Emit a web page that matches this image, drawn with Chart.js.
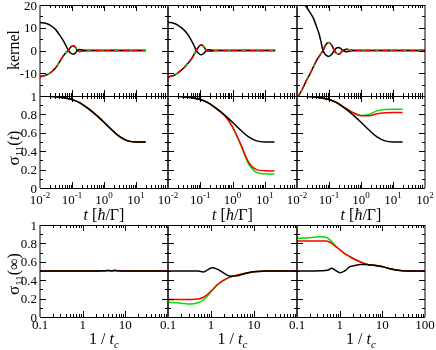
<!DOCTYPE html>
<html>
<head>
<meta charset="utf-8">
<script src="https://cdn.jsdelivr.net/npm/chart.js@4.4.0/dist/chart.umd.min.js"></script>
<style>
  html, body { margin: 0; padding: 0; background: #fff; overflow: hidden; width: 436px; height: 350px; }
  #wrap { position: relative; width: 436px; height: 350px; }
  canvas { position: absolute; }
</style>
</head>
<body>
<div id="wrap"></div>
<script>
// ---- kernel (top row), time in hbar/Gamma ----
const tKer1  = [0.01, 0.015, 0.02, 0.03, 0.04, 0.05, 0.065, 0.077, 0.09, 0.11, 0.13, 0.146, 0.17, 0.2, 0.25, 0.3, 0.4, 0.6, 1, 3, 10, 20];
const kerUp1 = [12.3, 12.0, 11.3, 9.4, 7.0, 5.0, 2.1, 0, -1.1, -1.6, -1.0, 0, 0.4, 0.3, 0.1, 0, 0, 0, 0, 0, 0, 0];
const kerLo1 = [-11.5, -10.9, -10.0, -7.8, -5.2, -3.0, -0.9, 0, 1.4, 2.1, 1.3, 0, -0.4, -0.3, -0.1, 0, 0, 0, 0, 0, 0, 0];

const tKer2  = [0.01, 0.015, 0.02, 0.03, 0.04, 0.055, 0.065, 0.075, 0.09, 0.107, 0.13, 0.154, 0.18, 0.22, 0.3, 0.4, 0.6, 1, 3, 10, 21];
const kerUp2 = [12.4, 12.0, 11.2, 9.3, 7.3, 4.0, 2.0, 0, -1.3, -1.9, -1.2, 0, 0.3, 0.2, 0, 0, 0, 0, 0, 0, 0];
const kerLo2 = [-11.6, -11.0, -9.9, -7.8, -5.9, -3.4, -1.6, 0, 1.7, 2.5, 1.6, 0, -0.3, -0.2, 0, 0, 0, 0, 0, 0, 0];

const tKer3  = [0.01, 0.0143, 0.02, 0.026, 0.033, 0.042, 0.048, 0.056, 0.065, 0.08, 0.098, 0.12, 0.147, 0.17, 0.2, 0.23, 0.27, 0.32, 0.37, 0.45, 0.55, 0.7, 1, 3, 10, 30, 100];
const kerUp3 = [23, 21.5, 19, 16.5, 14, 10, 7.7, 4, 0, -2, -2.6, -1.8, 0, 1.0, 1.3, 0.9, 0, -0.4, -0.5, -0.2, 0.1, 0, 0, 0, 0, 0, 0];
const kerLo3 = [-21, -17.3, -13, -10, -7, -4.1, -2.8, -1.4, 0, 2.6, 3.5, 2.5, 0, -1.2, -1.6, -1.1, 0, 0.4, 0.5, 0.2, -0.1, 0, 0, 0, 0, 0, 0];

// ---- sigma_11(t) (middle row), quarter-decade samples ----
const tSig      = [0.01, 0.0178, 0.0316, 0.0562, 0.1, 0.178, 0.316, 0.562, 1, 1.78, 3.16, 5.62, 10, 20];
const sigBlack  = [1, 0.998, 0.993, 0.982, 0.962, 0.925, 0.865, 0.795, 0.715, 0.63, 0.555, 0.512, 0.501, 0.5];
const sigRed2   = [1, 0.998, 0.993, 0.982, 0.962, 0.925, 0.862, 0.79, 0.665, 0.48, 0.28, 0.2, 0.188, 0.185];
const sigGreen2 = [1, 0.998, 0.993, 0.982, 0.962, 0.925, 0.862, 0.79, 0.665, 0.47, 0.26, 0.17, 0.155, 0.152];
const sigRed3   = [1, 0.998, 0.993, 0.982, 0.962, 0.927, 0.872, 0.82, 0.785, 0.785, 0.806, 0.817, 0.82, 0.82];
const sigGreen3 = [1, 0.998, 0.993, 0.982, 0.962, 0.927, 0.872, 0.82, 0.788, 0.8, 0.838, 0.854, 0.857, 0.857];

// ---- sigma_11(inf) vs 1/t_c (bottom row) ----
const uInf1     = [0.1, 0.3, 1, 2, 3, 4, 5, 6, 7, 10, 30, 100];
const infBlack1 = [0.5, 0.5, 0.5, 0.5, 0.502, 0.505, 0.503, 0.506, 0.502, 0.5, 0.5, 0.5];

const uInf2     = [0.1, 0.2, 0.33, 0.5, 0.67, 0.85, 1.06, 1.39, 1.8, 2.37, 3, 4.06, 5.5, 8.4, 12, 20, 40, 100];
const infBlack2 = [0.5, 0.5, 0.5, 0.5, 0.49, 0.515, 0.536, 0.52, 0.49, 0.455, 0.443, 0.447, 0.465, 0.487, 0.495, 0.5, 0.5, 0.5];
const infRed2   = [0.19, 0.19, 0.19, 0.195, 0.215, 0.25, 0.29, 0.35, 0.39, 0.42, 0.44, 0.456, 0.47, 0.487, 0.495, 0.5, 0.5, 0.5];
const infGreen2 = [0.16, 0.15, 0.14, 0.155, 0.185, 0.235, 0.29, 0.345, 0.385, 0.418, 0.44, 0.456, 0.47, 0.487, 0.495, 0.5, 0.5, 0.5];

const uInf3     = [0.1, 0.2, 0.35, 0.45, 0.54, 0.65, 0.78, 1.02, 1.3, 1.75, 2.3, 3, 4, 5.1, 6.2, 8, 10.6, 15, 21, 40, 100];
const infBlack3 = [0.5, 0.5, 0.502, 0.505, 0.51, 0.53, 0.51, 0.48, 0.5, 0.547, 0.56, 0.57, 0.572, 0.566, 0.562, 0.555, 0.545, 0.525, 0.51, 0.5, 0.5];
const infRed3   = [0.826, 0.826, 0.826, 0.825, 0.82, 0.8, 0.77, 0.73, 0.69, 0.655, 0.625, 0.6, 0.578, 0.566, 0.562, 0.555, 0.545, 0.525, 0.51, 0.5, 0.5];
const infGreen3 = [0.855, 0.862, 0.873, 0.87, 0.855, 0.82, 0.78, 0.73, 0.69, 0.655, 0.625, 0.6, 0.578, 0.566, 0.562, 0.555, 0.545, 0.525, 0.51, 0.5, 0.5];

// ---- ticks / labels ----
const timeMajor   = [0.01, 0.1, 1, 10, 100];
const timeLabels  = ['-2', '-1', '0', '1', '2'];   // exponents of 10
const tcMajor     = [0.1, 1, 10, 100];
const tcLabels    = ['0.1', '1', '10', '100'];
const kernelTicks = [20, 10, 0, -10, -20];
const kernelLabels = ['20', '10', '0', '-10', ''];
const sigmaTicks  = [1, 0.8, 0.6, 0.4, 0.2, 0];
const sigmaLabels = ['1', '0.8', '0.6', '0.4', '0.2', '0'];

// panel frame edges on the page
const colX = [40, 168, 297, 425];
const rowY = [[5, 96], [96, 188], [225, 317]];
const PAD = { left: 40, right: 14, top: 6, bottom: 40 };
const FONT = '"Liberation Serif", "Times New Roman", serif';

function pts(xs, ys) { return xs.map((x, i) => ({ x: x, y: ys[i] })); }
function line(xs, ys, color, dash, offset) {
  return { data: pts(xs, ys), borderColor: color, borderDash: dash || [], borderDashOffset: offset || 0 };
}

// draws parts [text, font, dy] centred on x, baseline y
function rich(ctx, parts, x, y) {
  let w = 0;
  parts.forEach(p => { ctx.font = p[1]; w += ctx.measureText(p[0]).width; });
  let cx = x - w / 2;
  parts.forEach(p => {
    ctx.font = p[1];
    ctx.fillText(p[0], cx, y + (p[2] || 0));
    cx += ctx.measureText(p[0]).width;
  });
}

const yTitles = [
  [['kernel', '16px ' + FONT]],
  [['σ', '17px ' + FONT], ['11', '11px ' + FONT, 4], ['(', '16px ' + FONT], ['t', 'italic 16px ' + FONT], [')', '16px ' + FONT]],
  [['σ', '17px ' + FONT], ['11', '11px ' + FONT, 4], ['(', '16px ' + FONT], ['∞', '16px ' + FONT], [')', '16px ' + FONT]]
];
const yTitleMid = [50, 148, 274];
const xTitles = [
  null,
  [['t', 'italic 16px ' + FONT], [' [', '16px ' + FONT], ['ħ', 'italic 16px ' + FONT], ['/Γ]', '16px ' + FONT]],
  [['1 / ', '16px ' + FONT], ['t', 'italic 16px ' + FONT], ['c', 'italic 11px ' + FONT, 4]]
];

const framePlugin = {
  id: 'frame',
  afterDraw(chart, args, o) {
    const ctx = chart.ctx, a = chart.chartArea;
    const sx = chart.scales.x, sy = chart.scales.y;
    const row = o.row, col = o.col;
    ctx.save();
    ctx.strokeStyle = '#000';
    ctx.lineWidth = 1;
    ctx.beginPath();
    ctx.moveTo(a.left, a.top + 0.5); ctx.lineTo(a.right, a.top + 0.5);
    ctx.moveTo(a.left, a.bottom + 0.5); ctx.lineTo(a.right, a.bottom + 0.5);
    ctx.moveTo(a.left, a.top); ctx.lineTo(a.left, a.bottom);
    ctx.moveTo(a.right, a.top); ctx.lineTo(a.right, a.bottom);

    // x ticks, inward on top and bottom
    const major = row < 2 ? timeMajor : tcMajor;
    const xt = [];
    major.forEach((m, i) => {
      xt.push([m, 6]);
      if (i < major.length - 1) for (let k = 2; k <= 9; k++) xt.push([m * k, 3]);
    });
    xt.forEach(([v, len]) => {
      const px = Math.round(sx.getPixelForValue(v)) + 0.5;
      if (px < a.left + 1 || px > a.right - 1) return;
      ctx.moveTo(px, a.bottom); ctx.lineTo(px, a.bottom - len);
      ctx.moveTo(px, a.top); ctx.lineTo(px, a.top + len);
    });
    // y ticks, inward on left and right
    const yStep = row === 0 ? 5 : 0.1, yMajor = row === 0 ? 10 : 0.2;
    for (let v = sy.min; v <= sy.max + 1e-9; v += yStep) {
      const q = v / yMajor;
      const len = Math.abs(q - Math.round(q)) < 1e-6 ? 6 : 3;
      const py = Math.round(sy.getPixelForValue(v)) + 0.5;
      if (py < a.top + 1 || py > a.bottom - 1) continue;
      ctx.moveTo(a.left, py); ctx.lineTo(a.left + len, py);
      ctx.moveTo(a.right, py); ctx.lineTo(a.right - len, py);
    }
    ctx.stroke();

    ctx.fillStyle = '#000';
    ctx.textBaseline = 'alphabetic';
    ctx.textAlign = 'left';
    // y tick labels + title only on the first column
    if (col === 0) {
      const tv = row === 0 ? kernelTicks : sigmaTicks;
      const tl = row === 0 ? kernelLabels : sigmaLabels;
      ctx.font = '13px ' + FONT;
      ctx.textAlign = 'right';
      tv.forEach((v, i) => {
        if (!tl[i]) return;
        ctx.fillText(tl[i], a.left - 3, sy.getPixelForValue(v) + 4.5);
      });
      ctx.textAlign = 'left';
      ctx.save();
      ctx.translate(19, yTitleMid[row] - (rowY[row][0] - PAD.top));
      ctx.rotate(-Math.PI / 2);
      rich(ctx, yTitles[row], 0, 0);
      ctx.restore();
    }
    // x tick labels + titles on the lower two rows
    if (row === 1) {
      timeMajor.forEach((v, i) => {
        if (v >= 100 && col < 2) return;
        const px = sx.getPixelForValue(v);
        rich(ctx, [['10', '13px ' + FONT], [timeLabels[i], '9px ' + FONT, -6]], px, a.bottom + 16);
      });
      rich(ctx, xTitles[1], (a.left + a.right) / 2, a.bottom + 32);
    }
    if (row === 2) {
      ctx.font = '13px ' + FONT;
      ctx.textAlign = 'center';
      tcMajor.forEach((v, i) => {
        if (v >= 100 && col < 2) return;
        ctx.fillText(tcLabels[i], sx.getPixelForValue(v), a.bottom + 12);
      });
      ctx.textAlign = 'left';
      rich(ctx, xTitles[2], (a.left + a.right) / 2, a.bottom + 27);
    }
    ctx.restore();
  }
};

const wrap = document.getElementById('wrap');

function panel(row, col, datasets) {
  const x0 = colX[col], x1 = colX[col + 1];
  const y0 = rowY[row][0], y1 = rowY[row][1];
  const w = x1 - x0 + PAD.left + PAD.right;
  const h = y1 - y0 + PAD.top + PAD.bottom;
  const cv = document.createElement('canvas');
  cv.width = w; cv.height = h;
  cv.style.left = (x0 - PAD.left) + 'px';
  cv.style.top = (y0 - PAD.top) + 'px';
  cv.style.width = w + 'px'; cv.style.height = h + 'px';
  wrap.appendChild(cv);
  new Chart(cv, {
    type: 'line',
    data: { datasets: datasets },
    options: {
      responsive: false,
      animation: false,
      devicePixelRatio: 1,
      events: [],
      layout: { padding: PAD },
      plugins: { legend: { display: false }, tooltip: { enabled: false }, frame: { row: row, col: col } },
      scales: {
        x: { type: 'logarithmic', display: false, min: row < 2 ? 0.01 : 0.1, max: 100 },
        y: { type: 'linear', display: false, min: row === 0 ? -20 : 0, max: row === 0 ? 20 : 1 }
      },
      elements: {
        point: { radius: 0 },
        line: { borderWidth: 1.5, cubicInterpolationMode: 'monotone', fill: false }
      }
    },
    plugins: [framePlugin]
  });
}

// first dataset is drawn on top
const kern = [[tKer1, kerUp1, kerLo1], [tKer2, kerUp2, kerLo2], [tKer3, kerUp3, kerLo3]];
kern.forEach(([t, up, lo], c) => {
  panel(0, c, [
    line(t, lo, '#00e000', [2, 12], 6),
    line(t, lo, '#ff0000', [6, 3]),
    line(t, up, '#000000'),
    line(t, lo, '#000000')
  ]);
});

panel(1, 0, [line(tSig, sigBlack, '#000'), line(tSig, sigBlack, '#ff0000'), line(tSig, sigBlack, '#00e000')]);
panel(1, 1, [line(tSig, sigBlack, '#000'), line(tSig, sigRed2, '#ff0000'), line(tSig, sigGreen2, '#00e000')]);
panel(1, 2, [line(tSig, sigBlack, '#000'), line(tSig, sigRed3, '#ff0000'), line(tSig, sigGreen3, '#00e000')]);

panel(2, 0, [line(uInf1, infBlack1, '#000'), line(uInf1, infBlack1, '#ff0000'), line(uInf1, infBlack1, '#00e000')]);
panel(2, 1, [line(uInf2, infBlack2, '#000'), line(uInf2, infRed2, '#ff0000'), line(uInf2, infGreen2, '#00e000')]);
panel(2, 2, [line(uInf3, infBlack3, '#000'), line(uInf3, infRed3, '#ff0000'), line(uInf3, infGreen3, '#00e000')]);
</script>
</body>
</html>
